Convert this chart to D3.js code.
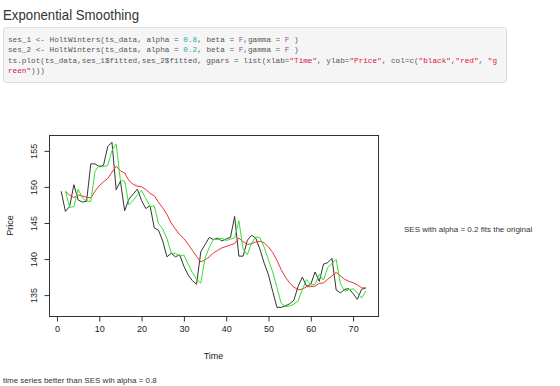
<!DOCTYPE html>
<html>
<head>
<meta charset="utf-8">
<script src="https://cdn.jsdelivr.net/npm/d3@7"></script>
<style>
  body { margin: 0; background: #fff; }
  text { font-family: 'Liberation Sans', Arial, sans-serif; }
  .code text { font-family: 'Liberation Mono', 'Courier New', monospace; white-space: pre; }
</style>
</head>
<body>
<svg id="chart" width="560" height="386"></svg>
<script>
// original price series (black)
let price = [
  149.4, 146.6, 147.3, 150.3, 148.2, 147.9, 148.0, 153.2, 153.2, 152.8,
  153.0, 155.6, 156.2, 149.6, 150.8, 146.7, 148.3, 149.0, 149.7, 148.1,
  147.0, 147.4, 144.3, 144.0, 142.5, 140.3, 140.8, 140.3, 140.6, 139.0,
  137.8, 137.0, 136.5, 141.0, 142.0, 143.0, 142.7, 142.9, 142.5, 142.8,
  143.0, 145.9, 140.4, 140.4, 142.6, 143.3, 142.9, 141.3, 139.4, 137.8,
  135.5, 133.3, 133.3, 133.5, 133.8, 134.3, 136.2, 137.5, 136.2, 136.5,
  138.2, 136.9, 139.3, 139.5, 140.1, 135.7, 135.3, 135.8, 135.9, 135.2,
  134.4, 135.8, 136.0
]
// ses_1$fitted, alpha = 0.8 (green), starts at t = 2
let fit08 = [
  149.4, 147.16, 147.27, 149.69, 148.50, 148.02, 148.00, 152.16, 152.99, 152.84,
  152.97, 155.07, 155.97, 150.87, 150.81, 147.52, 148.14, 148.83, 149.53, 148.39,
  147.28, 147.38, 144.92, 144.18, 142.84, 140.81, 140.80, 140.40, 140.56, 139.31,
  138.10, 137.22, 136.64, 140.13, 141.63, 142.73, 142.71, 142.86, 142.57, 142.75,
  142.95, 145.31, 141.38, 140.60, 142.20, 143.08, 142.94, 141.63, 139.85, 138.21,
  136.04, 133.85, 133.41, 133.48, 133.74, 134.19, 135.80, 137.16, 136.39, 136.48,
  137.86, 137.09, 138.86, 139.37, 139.95, 136.55, 135.55, 135.75, 135.87, 135.33,
  134.59, 135.56
]
// ses_2$fitted, alpha = 0.2 (red), starts at t = 2
let fit02 = [
  149.4, 148.84, 148.53, 148.88, 148.74, 148.57, 148.46, 149.41, 150.17, 150.70,
  151.16, 152.05, 152.88, 152.22, 151.94, 150.89, 150.37, 150.10, 150.02, 149.64,
  149.11, 148.77, 147.88, 147.10, 146.18, 145.00, 144.16, 143.39, 142.83, 142.06,
  141.21, 140.37, 139.60, 139.88, 140.30, 140.84, 141.21, 141.55, 141.74, 141.95,
  142.16, 142.91, 142.41, 142.01, 142.13, 142.36, 142.47, 142.24, 141.67, 140.90,
  139.82, 138.52, 137.48, 136.68, 136.10, 135.74, 135.83, 136.16, 136.17, 136.24,
  136.63, 136.68, 137.20, 137.66, 138.15, 137.66, 137.19, 136.91, 136.71, 136.41,
  136.01, 135.97
]
let xTicks = [0, 10, 20, 30, 40, 50, 60, 70]
let yTicks = [135, 140, 145, 150, 155]
let xDomain = [-1.88, 75.88]
let yDomain = [132.1, 157.2]

let svg = d3.select('#chart')

// page heading
svg.append('text')
  .attr('x', 3)
  .attr('y', 20)
  .attr('font-size', 14.5)
  .attr('textLength', 136)
  .attr('lengthAdjust', 'spacingAndGlyphs')
  .attr('fill', '#333')
  .text('Exponential Smoothing')

// code block
let code = svg.append('g').attr('class', 'code')
code.append('rect')
  .attr('x', 3.5).attr('y', 27.5)
  .attr('width', 503).attr('height', 55)
  .attr('rx', 3)
  .attr('fill', '#f5f5f5')
  .attr('stroke', '#ddd')

let colors = { t: '#555', n: '#2aa', l: '#a04aa0', s: '#d14' }
let codeLines = [
  [['t', 'ses_1 <- HoltWinters(ts_data, alpha = '], ['n', '0.8'], ['t', ', beta = '], ['l', 'F'], ['t', ',gamma = '], ['l', 'F'], ['t', ' )']],
  [['t', 'ses_2 <- HoltWinters(ts_data, alpha = '], ['n', '0.2'], ['t', ', beta = '], ['l', 'F'], ['t', ',gamma = '], ['l', 'F'], ['t', ' )']],
  [['t', 'ts.plot(ts_data,ses_1$fitted,ses_2$fitted, gpars = list(xlab='], ['s', '"Time"'], ['t', ', ylab='], ['s', '"Price"'], ['t', ', col=c('], ['s', '"black"'], ['t', ','], ['s', '"red"'], ['t', ', '], ['s', '"g']],
  [['s', 'reen"'], ['t', ')))']]
]
code.selectAll('text.line')
  .data(codeLines)
  .enter().append('text')
  .attr('class', 'line')
  .attr('x', 8)
  .attr('y', (d, i) => 41.5 + i * 10.5)
  .attr('font-size', 7.7)
  .selectAll('tspan')
  .data((d) => d)
  .enter().append('tspan')
  .attr('fill', (d) => colors[d[0]])
  .text((d) => d[1])

// plot region
let margin = {top: 135, right: 182, bottom: 70, left: 49}
let width = 560 - margin.left - margin.right
let height = 386 - margin.top - margin.bottom
let g = svg.append('g')
  .attr('transform', 'translate(' + margin.left + ',' + margin.top + ')')

let x = d3.scaleLinear().domain(xDomain).range([0, width])
let y = d3.scaleLinear().domain(yDomain).range([height, 0])

let line = d3.line()
  .x((d) => x(d[0]))
  .y((d) => y(d[1]))

let series = [
  {color: '#333', values: price.map((v, i) => [i + 1, v])},
  {color: '#f03030', values: fit02.map((v, i) => [i + 2, v])},
  {color: '#33e033', values: fit08.map((v, i) => [i + 2, v])}
]

g.selectAll('path.series')
  .data(series)
  .enter().append('path')
  .attr('class', 'series')
  .attr('fill', 'none')
  .attr('stroke', (d) => d.color)
  .attr('stroke-width', 1)
  .attr('stroke-linejoin', 'round')
  .attr('d', (d) => line(d.values))

// box around the plot
g.append('rect')
  .attr('x', 0.5).attr('y', 0.5)
  .attr('width', width).attr('height', height)
  .attr('fill', 'none')
  .attr('stroke', '#333')

// x axis
let xAxis = g.append('g')
  .attr('transform', 'translate(0,' + (height + 0.5) + ')')
  .call(d3.axisBottom(x).tickValues(xTicks).tickSize(5).tickSizeOuter(0).tickPadding(4))
xAxis.select('.domain').remove()
xAxis.selectAll('.tick line').attr('stroke', '#333')
xAxis.selectAll('.tick text')
  .attr('font-size', 9)
  .attr('font-family', 'Liberation Sans, Arial, sans-serif')
  .attr('fill', '#222')

// y axis, labels rotated as in base R
let yAxis = g.append('g')
  .attr('transform', 'translate(0.5,0)')
  .call(d3.axisLeft(y).tickValues(yTicks).tickSize(5).tickSizeOuter(0))
yAxis.select('.domain').remove()
yAxis.selectAll('.tick line').attr('stroke', '#333')
yAxis.selectAll('.tick text')
  .attr('font-size', 9)
  .attr('font-family', 'Liberation Sans, Arial, sans-serif')
  .attr('fill', '#222')
  .attr('x', null).attr('dy', null)
  .attr('text-anchor', 'middle')
  .attr('transform', 'translate(-13,0) rotate(-90)')

// axis titles
svg.append('text')
  .attr('x', margin.left + width / 2)
  .attr('y', 359)
  .attr('text-anchor', 'middle')
  .attr('font-size', 9)
  .attr('fill', '#222')
  .text('Time')

svg.append('text')
  .attr('transform', 'translate(13,' + (margin.top + height / 2) + ') rotate(-90)')
  .attr('text-anchor', 'middle')
  .attr('font-size', 9)
  .attr('fill', '#222')
  .text('Price')

// commentary text
svg.append('text')
  .attr('x', 404)
  .attr('y', 232)
  .attr('font-size', 8)
  .attr('fill', '#333')
  .text('SES with alpha = 0.2 fits the original')

svg.append('text')
  .attr('x', 3)
  .attr('y', 383)
  .attr('font-size', 8)
  .attr('fill', '#333')
  .text('time series better than SES wih alpha = 0.8')
</script>
</body>
</html>
